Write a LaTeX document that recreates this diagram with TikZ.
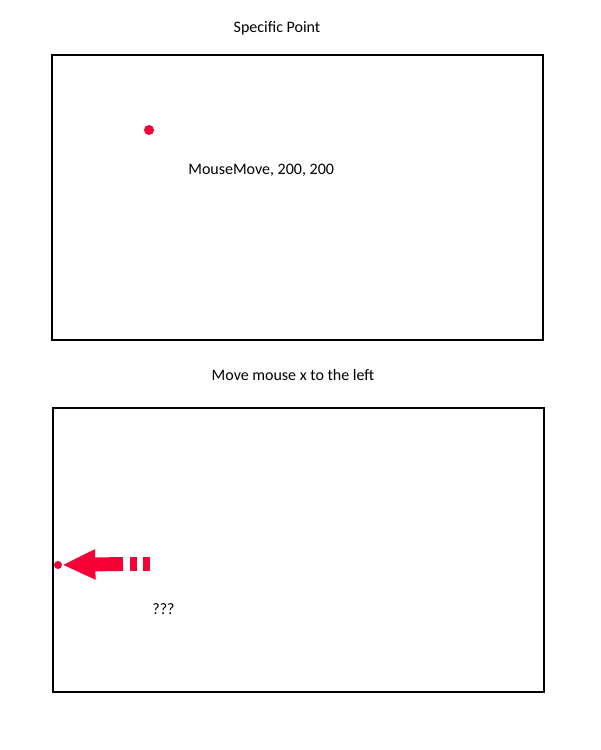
\documentclass[tikz,border=0pt]{standalone}
\usepackage{fontspec}
\setmainfont{Carlito}
\usetikzlibrary{arrows.meta}
\definecolor{pointred}{RGB}{245,0,55}
\tikzset{
  screen/.style={draw,line width=1.15pt},
  caption/.style={font=\fontsize{9.1}{11}\selectfont,inner sep=0pt},
  mousedot/.style={circle,fill=pointred,inner sep=0pt},
}
\begin{document}
\begin{tikzpicture}[x=0.02cm,y=-0.02cm]
  \useasboundingbox (0,0) rectangle (601,750);
  % 上面的屏幕
  \node[caption] (toptitle) at (277,28) {Specific Point};
  \draw[screen] (52,55) rectangle (543,340);
  \node[mousedot,minimum size=10*0.02cm] (topdot) at (149,130) {};
  \node[caption,anchor=west] (cmd) at (188,170) {MouseMove, 200, 200};
  % 下面的屏幕
  \node[caption] (bottomtitle) at (293,375) {Move mouse x to the left};
  \draw[screen] (53,408) rectangle (544,692);
  \node[mousedot,minimum size=8*0.02cm] (leftdot) at (58,565) {};
  \node[caption,anchor=west] (unknown) at (152,609) {???};
  % 箭头
  \coordinate (tail) at (123,564);
  \draw[pointred,line width=14*0.567pt,-{Triangle[length=0.66cm,width=0.56cm]}]
    (tail) -- (leftdot);
  \draw[pointred,line width=14*0.567pt,dash pattern=on 7*0.567pt off 6*0.567pt]
    (130,564) -- (151,564);
\end{tikzpicture}
\end{document}
